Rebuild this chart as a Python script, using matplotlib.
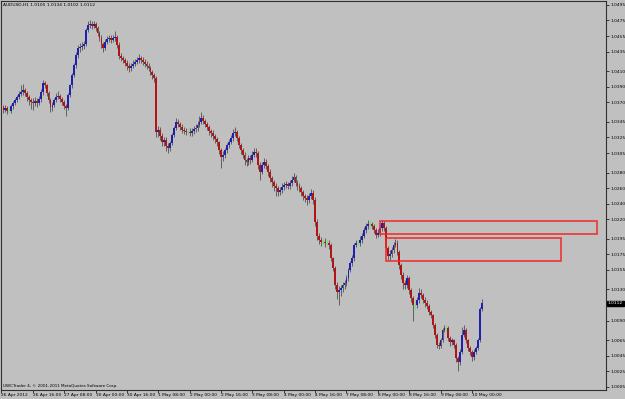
import matplotlib
matplotlib.use("Agg")
import matplotlib.pyplot as plt
from matplotlib.patches import Rectangle
import matplotlib.transforms as mtransforms

plt.rcParams["font.family"] = ["DejaVu Sans"]

# AUDUSD H1, 26 Apr 2012 00:00 .. 10 May 2012 05:00 (one bar per hour, weekend skipped)
first_open = 1.0366
closes = [
    1.0364, 1.0360, 1.0363, 1.0359, 1.0359, 1.0365, 1.0369, 1.0373, 1.0377, 1.0381,
    1.0383, 1.0386, 1.0382, 1.0377, 1.0373, 1.0371, 1.0369, 1.0372, 1.0369, 1.0374,
    1.0383, 1.0395, 1.0392, 1.0382, 1.0373, 1.0364, 1.0367, 1.0373, 1.0377, 1.0378,
    1.0374, 1.0371, 1.0365, 1.0363, 1.0380, 1.0392, 1.0405, 1.0418, 1.0431, 1.0440,
    1.0441, 1.0442, 1.0445, 1.0463, 1.0469, 1.0471, 1.0468, 1.0471, 1.0466, 1.0459,
    1.0453, 1.0445, 1.0440, 1.0448, 1.0451, 1.0453, 1.0450, 1.0453, 1.0454, 1.0444,
    1.0430, 1.0427, 1.0424, 1.0421, 1.0417, 1.0414, 1.0417, 1.0419, 1.0422, 1.0424,
    1.0427, 1.0424, 1.0422, 1.0419, 1.0417, 1.0414, 1.0409, 1.0405, 1.0401, 1.0332,
    1.0335, 1.0327, 1.0319, 1.0322, 1.0314, 1.0312, 1.0318, 1.0328, 1.0337, 1.0345,
    1.0342, 1.0339, 1.0335, 1.0333, 1.0332, 1.0332, 1.0331, 1.0333, 1.0336, 1.0337,
    1.0341, 1.0345, 1.0350, 1.0346, 1.0342, 1.0339, 1.0333, 1.0331, 1.0327, 1.0323,
    1.0319, 1.0309, 1.0300, 1.0303, 1.0309, 1.0315, 1.0319, 1.0324, 1.0331, 1.0332,
    1.0324, 1.0315, 1.0309, 1.0303, 1.0296, 1.0294, 1.0299, 1.0296, 1.0303, 1.0306,
    1.0305, 1.0290, 1.0281, 1.0290, 1.0294, 1.0288, 1.0281, 1.0273, 1.0268, 1.0263,
    1.0260, 1.0255, 1.0258, 1.0262, 1.0264, 1.0265, 1.0263, 1.0267, 1.0271, 1.0274,
    1.0267, 1.0263, 1.0260, 1.0255, 1.0250, 1.0247, 1.0245, 1.0250, 1.0254, 1.0245,
    1.0217, 1.0199, 1.0194, 1.0191, 1.0191, 1.0190, 1.0190, 1.0187, 1.0170, 1.0158,
    1.0136, 1.0127, 1.0129, 1.0132, 1.0136, 1.0138, 1.0145, 1.0155, 1.0164, 1.0170,
    1.0187, 1.0190, 1.0190, 1.0194, 1.0199, 1.0206, 1.0211, 1.0214, 1.0214, 1.0211,
    1.0206, 1.0200, 1.0203, 1.0209, 1.0215, 1.0209, 1.0183, 1.0173, 1.0176, 1.0181,
    1.0187, 1.0190, 1.0178, 1.0161, 1.0149, 1.0138, 1.0136, 1.0145, 1.0129, 1.0119,
    1.0110, 1.0110, 1.0117, 1.0126, 1.0123, 1.0117, 1.0113, 1.0109, 1.0101, 1.0097,
    1.0084, 1.0072, 1.0059, 1.0058, 1.0065, 1.0078, 1.0081, 1.0081, 1.0068, 1.0063,
    1.0065, 1.0059, 1.0042, 1.0037, 1.0050, 1.0072, 1.0078, 1.0065, 1.0055, 1.0050,
    1.0043, 1.0050, 1.0055, 1.0065, 1.0105, 1.0112,
]
highs = [
    1.0369, 1.0367, 1.0366, 1.0365, 1.0363, 1.0368, 1.0372, 1.0376, 1.0380, 1.0385,
    1.0392, 1.0394, 1.0389, 1.0385, 1.0380, 1.0376, 1.0375, 1.0377, 1.0376, 1.0378,
    1.0387, 1.0399, 1.0398, 1.0394, 1.0384, 1.0375, 1.0371, 1.0376, 1.0382, 1.0384,
    1.0381, 1.0377, 1.0373, 1.0368, 1.0382, 1.0394, 1.0408, 1.0421, 1.0434, 1.0444,
    1.0446, 1.0447, 1.0449, 1.0466, 1.0474, 1.0475, 1.0474, 1.0474, 1.0473, 1.0468,
    1.0461, 1.0456, 1.0448, 1.0451, 1.0455, 1.0457, 1.0456, 1.0457, 1.0461, 1.0456,
    1.0447, 1.0433, 1.0430, 1.0427, 1.0424, 1.0420, 1.0421, 1.0424, 1.0426, 1.0428,
    1.0432, 1.0430, 1.0428, 1.0425, 1.0423, 1.0420, 1.0416, 1.0412, 1.0408, 1.0404,
    1.0340, 1.0338, 1.0331, 1.0326, 1.0325, 1.0318, 1.0321, 1.0331, 1.0340, 1.0350,
    1.0348, 1.0345, 1.0342, 1.0339, 1.0337, 1.0337, 1.0337, 1.0337, 1.0340, 1.0342,
    1.0346, 1.0352, 1.0357, 1.0354, 1.0349, 1.0345, 1.0341, 1.0336, 1.0334, 1.0330,
    1.0326, 1.0321, 1.0311, 1.0307, 1.0312, 1.0318, 1.0323, 1.0328, 1.0336, 1.0338,
    1.0334, 1.0327, 1.0318, 1.0312, 1.0306, 1.0299, 1.0303, 1.0303, 1.0307, 1.0311,
    1.0312, 1.0307, 1.0293, 1.0294, 1.0298, 1.0297, 1.0291, 1.0284, 1.0276, 1.0271,
    1.0266, 1.0263, 1.0262, 1.0266, 1.0268, 1.0269, 1.0268, 1.0271, 1.0276, 1.0280,
    1.0277, 1.0270, 1.0266, 1.0263, 1.0258, 1.0253, 1.0251, 1.0254, 1.0259, 1.0257,
    1.0248, 1.0220, 1.0203, 1.0197, 1.0196, 1.0196, 1.0195, 1.0194, 1.0189, 1.0172,
    1.0160, 1.0139, 1.0134, 1.0136, 1.0140, 1.0142, 1.0148, 1.0158, 1.0167, 1.0174,
    1.0190, 1.0194, 1.0195, 1.0198, 1.0203, 1.0210, 1.0215, 1.0219, 1.0219, 1.0217,
    1.0214, 1.0209, 1.0207, 1.0213, 1.0219, 1.0218, 1.0211, 1.0186, 1.0180, 1.0185,
    1.0191, 1.0195, 1.0193, 1.0180, 1.0164, 1.0152, 1.0142, 1.0148, 1.0147, 1.0132,
    1.0122, 1.0115, 1.0120, 1.0132, 1.0130, 1.0126, 1.0120, 1.0116, 1.0111, 1.0104,
    1.0099, 1.0087, 1.0074, 1.0062, 1.0068, 1.0081, 1.0085, 1.0085, 1.0083, 1.0070,
    1.0068, 1.0067, 1.0061, 1.0045, 1.0053, 1.0082, 1.0084, 1.0080, 1.0067, 1.0058,
    1.0052, 1.0053, 1.0058, 1.0068, 1.0108, 1.0118,
]
lows = [
    1.0360, 1.0356, 1.0357, 1.0355, 1.0355, 1.0356, 1.0362, 1.0366, 1.0370, 1.0374,
    1.0378, 1.0380, 1.0378, 1.0372, 1.0366, 1.0362, 1.0360, 1.0365, 1.0364, 1.0366,
    1.0371, 1.0380, 1.0388, 1.0378, 1.0369, 1.0358, 1.0359, 1.0364, 1.0370, 1.0374,
    1.0370, 1.0366, 1.0361, 1.0353, 1.0360, 1.0377, 1.0389, 1.0402, 1.0414, 1.0427,
    1.0435, 1.0437, 1.0438, 1.0442, 1.0460, 1.0465, 1.0464, 1.0465, 1.0462, 1.0455,
    1.0449, 1.0440, 1.0434, 1.0437, 1.0445, 1.0448, 1.0446, 1.0447, 1.0449, 1.0440,
    1.0426, 1.0423, 1.0420, 1.0416, 1.0412, 1.0409, 1.0410, 1.0414, 1.0416, 1.0419,
    1.0421, 1.0420, 1.0418, 1.0415, 1.0413, 1.0410, 1.0405, 1.0400, 1.0396, 1.0326,
    1.0326, 1.0322, 1.0314, 1.0314, 1.0308, 1.0305, 1.0308, 1.0315, 1.0325, 1.0334,
    1.0338, 1.0335, 1.0331, 1.0329, 1.0328, 1.0328, 1.0327, 1.0327, 1.0330, 1.0332,
    1.0333, 1.0338, 1.0342, 1.0342, 1.0338, 1.0334, 1.0328, 1.0326, 1.0322, 1.0318,
    1.0314, 1.0304, 1.0286, 1.0295, 1.0299, 1.0305, 1.0311, 1.0316, 1.0321, 1.0327,
    1.0320, 1.0311, 1.0304, 1.0298, 1.0290, 1.0288, 1.0290, 1.0291, 1.0293, 1.0300,
    1.0300, 1.0285, 1.0270, 1.0278, 1.0286, 1.0284, 1.0276, 1.0268, 1.0262, 1.0256,
    1.0250, 1.0250, 1.0251, 1.0254, 1.0258, 1.0260, 1.0259, 1.0259, 1.0263, 1.0268,
    1.0263, 1.0258, 1.0255, 1.0250, 1.0245, 1.0242, 1.0238, 1.0241, 1.0246, 1.0240,
    1.0212, 1.0194, 1.0188, 1.0186, 1.0187, 1.0185, 1.0186, 1.0182, 1.0166, 1.0154,
    1.0130, 1.0118, 1.0110, 1.0122, 1.0127, 1.0131, 1.0134, 1.0141, 1.0152, 1.0160,
    1.0167, 1.0184, 1.0186, 1.0186, 1.0190, 1.0196, 1.0202, 1.0207, 1.0209, 1.0207,
    1.0202, 1.0196, 1.0197, 1.0199, 1.0205, 1.0205, 1.0179, 1.0168, 1.0168, 1.0172,
    1.0177, 1.0184, 1.0174, 1.0156, 1.0144, 1.0130, 1.0130, 1.0132, 1.0124, 1.0114,
    1.0090, 1.0104, 1.0106, 1.0113, 1.0119, 1.0113, 1.0108, 1.0105, 1.0097, 1.0093,
    1.0080, 1.0068, 1.0055, 1.0054, 1.0055, 1.0062, 1.0075, 1.0076, 1.0064, 1.0058,
    1.0059, 1.0055, 1.0037, 1.0025, 1.0033, 1.0047, 1.0069, 1.0061, 1.0051, 1.0046,
    1.0038, 1.0040, 1.0047, 1.0052, 1.0062, 1.0102,
]
opens = [first_open] + closes[:-1]

time_labels = ["26 Apr 2012", "26 Apr 16:00", "27 Apr 08:00", "30 Apr 00:00",
               "30 Apr 16:00", "1 May 08:00", "2 May 00:00", "2 May 16:00",
               "3 May 08:00", "4 May 00:00", "4 May 16:00", "7 May 08:00",
               "8 May 00:00", "8 May 16:00", "9 May 08:00", "10 May 00:00"]
price_ticks = [1.0495, 1.0475, 1.0455, 1.0435, 1.0410, 1.0390, 1.0370, 1.0345,
               1.0325, 1.0305, 1.0280, 1.0260, 1.0240, 1.0220, 1.0195, 1.0175,
               1.0155, 1.0130, 1.0090, 1.0065, 1.0045, 1.0025, 1.0005]
header = "AUDUSD,H1 1.0105 1.0134 1.0102 1.0112"
last_price = 1.0112

# supply zones drawn on the chart (bar index from / to, price bottom / top)
zone_start = [193, 196]
zone_end = [304, 285.5]
zone_bottom = [1.0201, 1.0166]
zone_top = [1.0218, 1.0196]

bg = "#c0c0c0"
fs = 3.2
fig = plt.figure(figsize=(6.25, 3.99), dpi=100, facecolor=bg)
ax = fig.add_axes([1 / 625, 9 / 399, 605 / 625, 389 / 399])
ax.set_facecolor(bg)

for i in range(len(closes)):
    o, c = opens[i], closes[i]
    if c > o:
        col = "#2020b0"
    elif c < o:
        col = "#b01414"
    else:
        col = "#70e070"
    wick = col if c == o else "#505050"
    ax.vlines(i, lows[i], highs[i], color=wick, linewidth=0.6, zorder=2)
    if c == o:
        ax.hlines(c, i - 0.5, i + 0.5, color=col, linewidth=1.0, zorder=3)
    else:
        ax.bar(i, abs(c - o), bottom=min(o, c), width=0.95, color=col,
               linewidth=0, zorder=3)

for x0, x1, y0, y1 in zip(zone_start, zone_end, zone_bottom, zone_top):
    ax.add_patch(Rectangle((x0, y0), x1 - x0, y1 - y0, fill=False,
                           edgecolor="#f02828", linewidth=1.1, zorder=4))

ax.set_xlim(-0.25, 308.4)
ax.set_ylim(1.0001, 1.0500)

ax.yaxis.tick_right()
ax.set_yticks(price_ticks)
ax.set_yticklabels([f"{p:.4f}" for p in price_ticks])
ax.set_xticks(range(0, 16 * len(time_labels), 16))
ax.set_xticklabels(time_labels, ha="left")
ax.tick_params(axis="y", length=2, width=0.5, pad=1.2, labelsize=fs, colors="black")
ax.tick_params(axis="x", length=2, width=0.5, pad=0.5, labelsize=fs, colors="black")
for s in ax.spines.values():
    s.set_color("#303030")
    s.set_linewidth(0.8)

ax.text(0.004, 0.995, header, transform=ax.transAxes, ha="left", va="top",
        fontsize=fs, color="black")
ax.text(0.004, 0.006, "UWCTrader 4, © 2001-2011 MetaQuotes Software Corp.",
        transform=ax.transAxes, ha="left", va="bottom", fontsize=3.0, color="black")

trans = mtransforms.blended_transform_factory(ax.transAxes, ax.transData)
ax.text(1.003, last_price, f"{last_price:.4f}", transform=trans, ha="left", va="center",
        fontsize=fs, color="white",
        bbox=dict(boxstyle="square,pad=0.2", facecolor="black", edgecolor="black"))

fig.savefig("out.png", dpi=100, facecolor=bg)
